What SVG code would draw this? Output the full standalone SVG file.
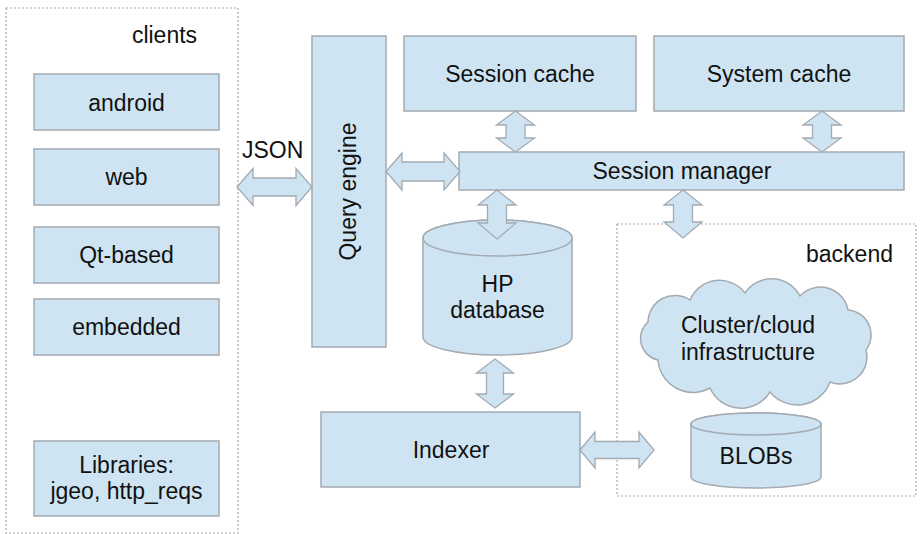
<svg xmlns="http://www.w3.org/2000/svg" width="920" height="534" viewBox="0 0 920 534">
  <style>
    .box { fill: #cfe4f2; stroke: #a3aab1; stroke-width: 1.5; }
    .arrow { fill: #cfe4f2; stroke: #a3aab1; stroke-width: 1.3; stroke-linejoin: miter; }
    .group { fill: none; stroke: #a9a9a9; stroke-width: 1.2; stroke-dasharray: 2 2; }
    text { font-family: "Liberation Sans", Arial, sans-serif; font-size: 23px; fill: #111; }
    .c { text-anchor: middle; }
  </style>

  <!-- group frames -->
  <g id="clients-group">
    <rect class="group" x="6" y="8" width="232" height="525"/>
    <text class="c" x="164.5" y="43">clients</text>
  </g>
  <g id="backend-group">
    <rect class="group" x="617" y="224" width="299" height="272"/>
    <text class="c" x="849.5" y="262">backend</text>
  </g>

  <!-- client nodes -->
  <g id="android">
    <rect class="box" x="34" y="74" width="185" height="56"/>
    <text class="c" x="126.5" y="110.5">android</text>
  </g>
  <g id="web">
    <rect class="box" x="34" y="149" width="185" height="56"/>
    <text class="c" x="126.5" y="185">web</text>
  </g>
  <g id="qt-based">
    <rect class="box" x="34" y="227" width="185" height="56"/>
    <text class="c" x="126.5" y="263">Qt-based</text>
  </g>
  <g id="embedded">
    <rect class="box" x="34" y="299" width="185" height="56"/>
    <text class="c" x="126.5" y="335">embedded</text>
  </g>
  <g id="libraries">
    <rect class="box" x="34" y="441" width="185" height="75"/>
    <text class="c" x="126.5" y="473">Libraries:</text>
    <text class="c" x="126.5" y="499">jgeo, http_reqs</text>
  </g>

  <!-- server side nodes -->
  <g id="query-engine">
    <rect class="box" x="312" y="36" width="74" height="311"/>
    <text class="c" transform="translate(356 191.5) rotate(-90)">Query engine</text>
  </g>
  <g id="session-cache">
    <rect class="box" x="404" y="36" width="232" height="75"/>
    <text class="c" x="520" y="82">Session cache</text>
  </g>
  <g id="system-cache">
    <rect class="box" x="654" y="36" width="250" height="75"/>
    <text class="c" x="779" y="82">System cache</text>
  </g>
  <g id="session-manager">
    <rect class="box" x="459" y="152" width="445" height="38"/>
    <text class="c" x="682" y="178.5">Session manager</text>
  </g>
  <g id="hp-database">
    <path class="box" d="M423 238 V337 A74.5 18 0 0 0 572 337 V238 A74.5 18 0 0 0 423 238 Z"/>
    <ellipse class="box" cx="497.5" cy="238" rx="74.5" ry="18"/>
    <text class="c" x="497.5" y="292">HP</text>
    <text class="c" x="497.5" y="318">database</text>
  </g>
  <g id="indexer">
    <rect class="box" x="321" y="412" width="259" height="75"/>
    <text class="c" x="451" y="458">Indexer</text>
  </g>
  <g id="cluster-cloud">
    <path class="box" d="M658 360 A22 22 0 0 1 648 322 A27 27 0 0 1 690 300 A32 32 0 0 1 745 293 A32 32 0 0 1 800 296 A28 28 0 0 1 848 310 A25 25 0 0 1 866 350 A27 27 0 0 1 830 382 A35 35 0 0 1 770 392 A34 34 0 0 1 710 388 A35 35 0 0 1 658 360 Z"/>
    <text class="c" x="748" y="333">Cluster/cloud</text>
    <text class="c" x="748" y="360">infrastructure</text>
  </g>
  <g id="blobs">
    <path class="box" d="M691 424 V477 A65 11 0 0 0 821 477 V424 A65 11 0 0 0 691 424 Z"/>
    <ellipse class="box" cx="756" cy="424" rx="65" ry="11"/>
    <text class="c" x="756" y="464">BLOBs</text>
  </g>

  <!-- connectors: double-headed block arrows -->
  <g id="connectors">
    <!-- clients <-> query engine (JSON) -->
    <polygon class="arrow" points="237,187 253,168.5 253,178 296,178 296,168.5 312,187 296,205.5 296,196 253,196 253,205.5"/>
    <text x="242" y="158">JSON</text>
    <!-- query engine <-> session manager -->
    <polygon class="arrow" points="386,171.5 402,153 402,162 444,162 444,153 460,171.5 444,190 444,181 402,181 402,190"/>
    <!-- session cache <-> session manager -->
    <polygon class="arrow" points="515.5,111 534.5,125 525,125 525,138 534.5,138 515.5,152 496.5,138 506,138 506,125 496.5,125"/>
    <!-- system cache <-> session manager -->
    <polygon class="arrow" points="822,111 841,125 831.5,125 831.5,138 841,138 822,152 803,138 812.5,138 812.5,125 803,125"/>
    <!-- session manager <-> HP database -->
    <polygon class="arrow" points="497,190 516,205 506.5,205 506.5,223 516,223 497,239 478,223 487.5,223 487.5,205 478,205"/>
    <!-- session manager <-> backend -->
    <polygon class="arrow" points="683,190 702,205 692.5,205 692.5,222 702,222 683,238 664,222 673.5,222 673.5,205 664,205"/>
    <!-- HP database <-> indexer -->
    <polygon class="arrow" points="495,359 513.5,373 503.5,373 503.5,394 513.5,394 495,408 476.5,394 486.5,394 486.5,373 476.5,373"/>
    <!-- indexer <-> BLOBs -->
    <polygon class="arrow" points="580,450 595,432 595,441.5 639,441.5 639,432 654,450 639,468 639,458.5 595,458.5 595,468"/>
  </g>
</svg>
